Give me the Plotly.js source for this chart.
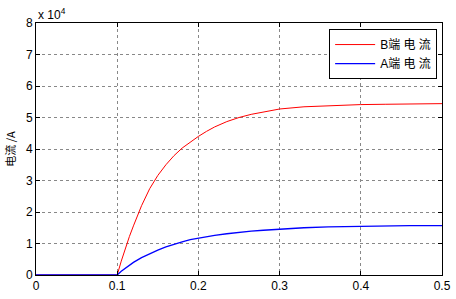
<!DOCTYPE html>
<html><head><meta charset="utf-8">
<script src="https://cdn.plot.ly/plotly-3.0.1.min.js"></script>
<style>html,body{margin:0;padding:0;background:#fff}#c{width:456px;height:299px}</style>
</head><body><div id="c"></div>
<script>
// time (s)
const t = [0, 0.1, 0.105, 0.11, 0.115, 0.12, 0.13, 0.14, 0.15, 0.16, 0.17, 0.18, 0.19, 0.2, 0.21, 0.22, 0.235, 0.25, 0.265, 0.28, 0.3, 0.33, 0.36, 0.4, 0.43, 0.46, 0.5];
// current, units of 1e4 A
const currentB = [0, 0, 0.44, 0.85, 1.22, 1.56, 2.2, 2.74, 3.16, 3.5, 3.79, 4.03, 4.23, 4.4, 4.56, 4.7, 4.87, 5.0, 5.1, 5.18, 5.27, 5.34, 5.38, 5.41, 5.42, 5.43, 5.44];
const currentA = [0, 0, 0.12, 0.22, 0.32, 0.4, 0.55, 0.68, 0.79, 0.89, 0.98, 1.05, 1.12, 1.17, 1.22, 1.26, 1.31, 1.36, 1.39, 1.42, 1.46, 1.5, 1.53, 1.55, 1.56, 1.57, 1.57];
const nameB = 'B端 电 流';
const nameA = 'A端 电 流';
const yTicks = [0, 1, 2, 3, 4, 5, 6, 7, 8];
const xTicks = [0, 0.1, 0.2, 0.3, 0.4, 0.5];

const fontFam = 'Liberation Sans, Arial, Noto Sans CJK SC, sans-serif';
const data = [
  {x: t, y: currentB, name: nameB, mode: 'lines', line: {color: '#ff0000', width: 1}},
  {x: t, y: currentA, name: nameA, mode: 'lines', line: {color: '#0000ff', width: 1.3}}
];
const axisCommon = {
  showline: true, linecolor: '#000', linewidth: 1, mirror: 'ticks',
  ticks: 'inside', ticklen: 4, tickcolor: '#000',
  showgrid: true, gridcolor: '#888', griddash: 'dot', gridwidth: 1,
  zeroline: false, tickfont: {size: 12, color: '#000', family: fontFam}
};
const layout = {
  width: 456, height: 299,
  margin: {l: 36, r: 14, t: 23, b: 24},
  paper_bgcolor: '#fff', plot_bgcolor: '#fff',
  font: {family: fontFam, size: 12, color: '#000'},
  showlegend: true,
  legend: {
    x: 0.988, y: 0.976, xanchor: 'right', yanchor: 'top',
    bordercolor: '#000', borderwidth: 1, bgcolor: '#fff',
    itemwidth: 40,
    font: {size: 12, family: 'Liberation Sans, Noto Sans CJK SC, sans-serif', color: '#000'},
    tracegroupgap: 0
  },
  xaxis: Object.assign({}, axisCommon, {range: [0, 0.5], tickvals: xTicks, ticktext: xTicks.map(String)}),
  yaxis: Object.assign({}, axisCommon, {
    range: [0, 8], tickvals: yTicks, ticktext: yTicks.map(String),
    title: {text: '电流 /A', standoff: 8, font: {size: 11, family: 'Noto Sans CJK SC, Liberation Sans, sans-serif', color: '#000'}}
  }),
  annotations: [{
    xref: 'paper', yref: 'paper', x: 0, y: 1, xanchor: 'left', yanchor: 'bottom',
    text: 'x 10<sup>4</sup>', showarrow: false, font: {size: 12, color: '#000'}, yshift: -1
  }]
};
Plotly.newPlot('c', data, layout, {displayModeBar: false, staticPlot: true});
</script>
</body></html>
